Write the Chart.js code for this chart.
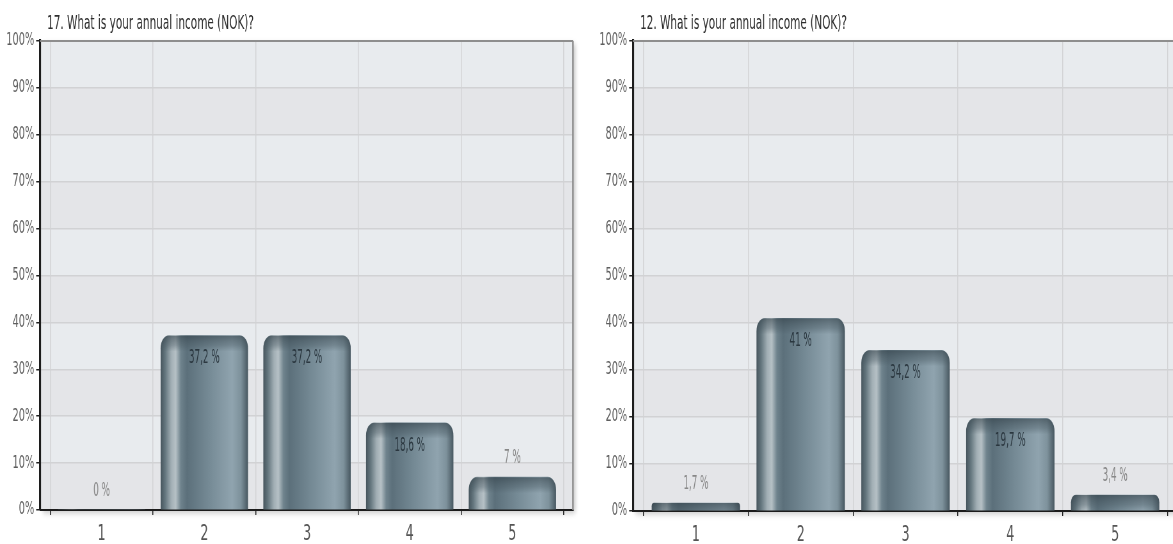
<!DOCTYPE html>
<html>
<head>
<meta charset="utf-8">
<script src="https://cdn.jsdelivr.net/npm/chart.js@4.4.1/dist/chart.umd.min.js"></script>
<style>
  html, body { margin: 0; padding: 0; background: #fff; width: 1173px; height: 544px; overflow: hidden; }
  .panel { position: absolute; top: 0; height: 544px; overflow: hidden; }
  /* the charts are drawn wide and narrowed horizontally, giving the condensed look */
  .panel canvas { transform: scaleX(0.64); transform-origin: 0 0; }
</style>
</head>
<body>
<div class="panel" style="left:0;width:586px"><canvas id="incomeA" width="916" height="544"></canvas></div>
<div class="panel" style="left:586px;width:587px"><canvas id="incomeB" width="938" height="544"></canvas></div>
<script>
// Answer categories (income brackets) and the share of respondents per bracket, in percent
const categories = ['1', '2', '3', '4', '5'];
const sharesQ17 = [0, 37.2, 37.2, 18.6, 7];
const sharesQ12 = [1.7, 41, 34.2, 19.7, 3.4];
const titleQ17 = '17. What is your annual income (NOK)?';
const titleQ12 = '12. What is your annual income (NOK)?';
const yTickStep = 10;
const yMax = 100;

const FONT = "'Liberation Sans Narrow', 'DejaVu Sans Condensed', 'Arial Narrow', sans-serif";

function pctLabel(v) {
  return String(v).replace('.', ',') + ' %';
}

// cylindrical steel-blue shading across each bar
function barFill(ctx) {
  const chart = ctx.chart;
  const xs = chart.scales && chart.scales.x;
  if (!xs || !ctx.parsed) return '#7a8e99';
  const w = ctx.dataset.barThickness;
  const cx = xs.getPixelForValue(ctx.parsed.x);
  if (!isFinite(cx) || !isFinite(w)) return '#7a8e99';
  const g = chart.ctx.createLinearGradient(cx - w / 2, 0, cx + w / 2, 0);
  g.addColorStop(0.00, '#48575f');
  g.addColorStop(0.05, '#64767e');
  g.addColorStop(0.12, '#a2afb5');
  g.addColorStop(0.17, '#b6c1c6');
  g.addColorStop(0.23, '#6f838d');
  g.addColorStop(0.30, '#5c707b');
  g.addColorStop(0.55, '#758a95');
  g.addColorStop(0.82, '#90a4af');
  g.addColorStop(0.92, '#7e929c');
  g.addColorStop(1.00, '#495962');
  return g;
}

// plot area: drop shadow and alternating 10% bands
const plotBackdrop = {
  id: 'plotBackdrop',
  beforeDraw(chart) {
    const { ctx, chartArea: a } = chart;
    const ys = chart.scales.y;
    ctx.save();
    ctx.shadowColor = 'rgba(0,0,0,0.22)';
    ctx.shadowBlur = 6;
    ctx.shadowOffsetX = 4;
    ctx.shadowOffsetY = 3;
    ctx.fillStyle = '#e5e6e8';
    ctx.fillRect(a.left, a.top, a.right - a.left, a.bottom - a.top);
    ctx.restore();
    for (let v = 0; v < yMax; v += yTickStep) {
      const y0 = ys.getPixelForValue(v);
      const y1 = ys.getPixelForValue(v + yTickStep);
      ctx.fillStyle = (v / yTickStep) % 2 ? '#e8ebee' : '#e4e5e8';
      ctx.fillRect(a.left, y1, a.right - a.left, y0 - y1);
    }
  }
};

// text drawn narrower than the font's natural width
function narrowText(ctx, text, x, y, squeeze) {
  ctx.save();
  ctx.translate(x, y);
  ctx.scale(squeeze, 1);
  ctx.fillText(text, 0, 0);
  ctx.restore();
}

// darker rounded cap on top of each bar, frame lines, value labels and question title
const decorations = {
  id: 'decorations',
  afterDatasetsDraw(chart) {
    const { ctx, chartArea: a } = chart;
    const meta = chart.getDatasetMeta(0);
    const ds = chart.data.datasets[0];
    meta.data.forEach((bar) => {
      const h = bar.base - bar.y;
      if (!(h > 0.5)) return;
      const w = bar.width;
      const r = Math.min(13, h / 2, w / 2);
      ctx.save();
      ctx.beginPath();
      ctx.roundRect(bar.x - w / 2, bar.y, w, h, [r, r, 0, 0]);
      ctx.clip();
      const g = ctx.createLinearGradient(0, bar.y, 0, bar.y + 16);
      g.addColorStop(0, 'rgba(50,64,72,0.6)');
      g.addColorStop(0.6, 'rgba(70,86,95,0.38)');
      g.addColorStop(1, 'rgba(70,86,95,0)');
      ctx.fillStyle = g;
      ctx.fillRect(bar.x - w / 2, bar.y, w, Math.min(16, h));
      ctx.restore();
    });

    ctx.save();
    ctx.strokeStyle = '#8e8e8e';
    ctx.lineWidth = 2;
    ctx.beginPath();
    ctx.moveTo(a.left, a.top);
    ctx.lineTo(a.right, a.top);
    ctx.stroke();
    ctx.lineWidth = 2.4;
    ctx.beginPath();
    ctx.moveTo(a.right, a.top);
    ctx.lineTo(a.right, a.bottom);
    ctx.stroke();
    ctx.restore();

    ctx.save();
    ctx.font = '19px ' + FONT;
    ctx.textAlign = 'center';
    ctx.textBaseline = 'middle';
    meta.data.forEach((bar, i) => {
      const v = ds.data[i].y;
      if (v >= 10) {
        ctx.fillStyle = 'rgba(34,46,54,0.88)';
        narrowText(ctx, pctLabel(v), bar.x, bar.y + 23, 0.8);
      } else {
        ctx.fillStyle = '#888';
        narrowText(ctx, pctLabel(v), bar.x, bar.y - 19, 0.8);
      }
    });
    ctx.restore();
  },
  afterDraw(chart, args, opts) {
    const { ctx, chartArea: a } = chart;
    ctx.save();
    ctx.font = '20px ' + FONT;
    ctx.fillStyle = '#2e2e2e';
    ctx.textAlign = 'left';
    ctx.textBaseline = 'alphabetic';
    narrowText(ctx, opts.text, a.left + 11, 29, 0.91);
    ctx.restore();
  }
};

function buildChart(canvasId, values, title, geo) {
  return new Chart(document.getElementById(canvasId), {
    type: 'bar',
    data: {
      datasets: [{
        data: categories.map((c, i) => ({ x: Number(c), y: values[i] })),
        backgroundColor: barFill,
        borderWidth: 0,
        borderSkipped: 'start',
        borderRadius: { topLeft: 13, topRight: 13, bottomLeft: 0, bottomRight: 0 },
        barThickness: geo.bar
      }]
    },
    options: {
      responsive: false,
      animation: false,
      devicePixelRatio: 1,
      layout: { padding: { top: 41, right: geo.right, bottom: 0, left: 0 } },
      plugins: {
        legend: { display: false },
        tooltip: { enabled: false },
        title: { display: false },
        decorations: { text: title }
      },
      scales: {
        x: {
          type: 'linear',
          min: 0.4,
          max: 5.59,
          offset: false,
          ticks: {
            stepSize: 1,
            includeBounds: false,
            autoSkip: false,
            maxRotation: 0,
            padding: 6,
            color: '#555',
            font: { family: FONT, size: 22 },
            callback: (v) => categories[v - 1] ?? ''
          },
          grid: { color: '#d3d4d6', lineWidth: 1.5, tickLength: 5, tickColor: '#222' },
          border: { color: '#1c1c1c', width: 2 },
          afterFit: (s) => { s.height = geo.xh; }
        },
        y: {
          min: 0,
          max: yMax,
          ticks: {
            stepSize: yTickStep,
            padding: 3,
            color: '#5e5e5e',
            font: { family: FONT, size: 17 },
            callback: (v) => v + '%'
          },
          grid: { color: '#d1d2d4', lineWidth: 1.5, tickLength: 6, tickColor: '#222' },
          border: { color: '#1c1c1c', width: 3.1 },
          afterFit: (s) => { s.width = geo.yw; }
        }
      }
    },
    plugins: [plotBackdrop, decorations]
  });
}

buildChart('incomeA', sharesQ17, titleQ17, { yw: 62.5, right: 20.7, xh: 34, bar: 135.9 });
buildChart('incomeB', sharesQ12, titleQ12, { yw: 73.4, right: 14.6, xh: 33, bar: 137.5 });
</script>
</body>
</html>
